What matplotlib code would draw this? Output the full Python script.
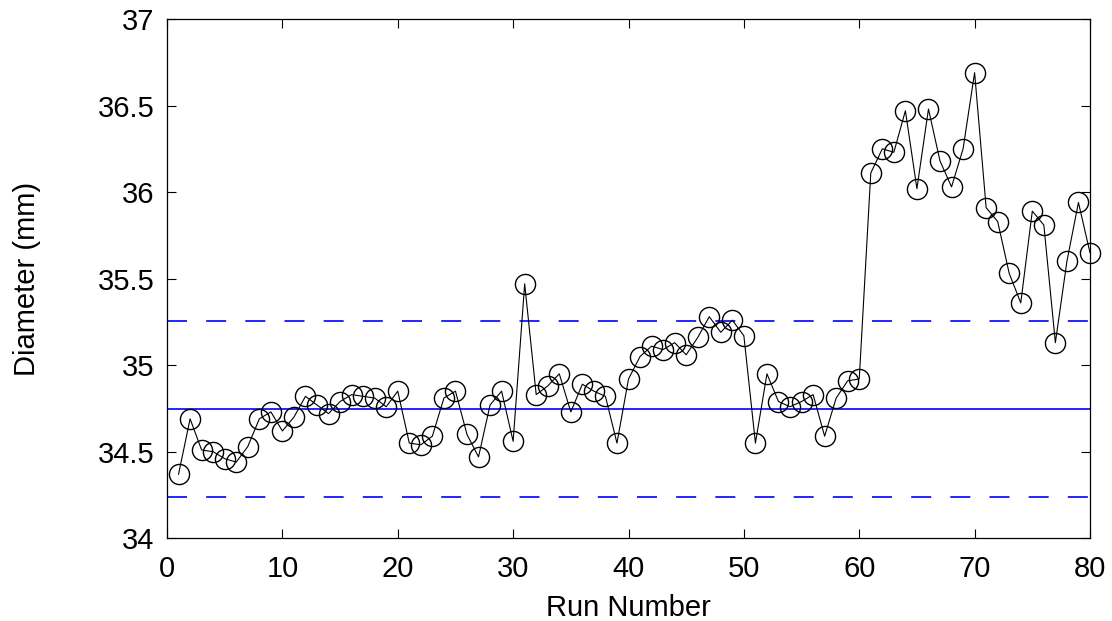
import numpy as np
import matplotlib
matplotlib.use("Agg")
import matplotlib.pyplot as plt

# ── Data ──────────────────────────────────────────────────────────────────────
diameter = [
    34.37, 34.69, 34.51, 34.50, 34.46, 34.44, 34.53, 34.69, 34.73, 34.62,
    34.70, 34.82, 34.77, 34.72, 34.79, 34.83, 34.82, 34.81, 34.76, 34.85,
    34.55, 34.54, 34.59, 34.81, 34.85, 34.60, 34.47, 34.77, 34.85, 34.56,
    35.47, 34.83, 34.88, 34.95, 34.73, 34.89, 34.85, 34.82, 34.55, 34.92,
    35.05, 35.11, 35.09, 35.13, 35.06, 35.16, 35.28, 35.19, 35.26, 35.17,
    34.55, 34.95, 34.79, 34.76, 34.79, 34.83, 34.59, 34.81, 34.91, 34.92,
    36.11, 36.25, 36.23, 36.47, 36.02, 36.48, 36.18, 36.03, 36.25, 36.69,
    35.91, 35.83, 35.53, 35.36, 35.89, 35.81, 35.13, 35.60, 35.94, 35.65,
]
run = np.arange(1, len(diameter) + 1)

center = 34.747
ucl = 35.255
lcl = 34.239

xticks = [0, 10, 20, 30, 40, 50, 60, 70, 80]
yticks = [34, 34.5, 35, 35.5, 36, 36.5, 37]
ytick_labels = ["34", "34.5", "35", "35.5", "36", "36.5", "37"]

# ── Plot ──────────────────────────────────────────────────────────────────────
plt.rcParams["font.family"] = ["Liberation Sans", "DejaVu Sans"]

fig = plt.figure(figsize=(11.12, 6.21), dpi=100)
ax = fig.add_axes([0.1502, 0.1332, 0.8300, 0.8362])

ax.axhline(center, color="#0000ff", lw=1.2, zorder=1)
ax.axhline(ucl, color="#0000ff", lw=1.2, ls=(0, (12, 11.5)), zorder=1)
ax.axhline(lcl, color="#0000ff", lw=1.2, ls=(0, (12, 11.5)), zorder=1)

ax.plot(run, diameter, color="black", lw=0.8, marker="o", ms=14.5,
        mfc="none", mec="black", mew=1.0, zorder=3, clip_on=False)

ax.set_xlim(0, 80)
ax.set_ylim(34, 37)
ax.set_xticks(xticks)
ax.set_yticks(yticks)
ax.set_yticklabels(ytick_labels)

ax.tick_params(direction="in", length=6.5, width=0.8, labelsize=21,
               top=True, right=True, pad=9)
ax.tick_params(axis="x", pad=12)
for s in ax.spines.values():
    s.set_linewidth(0.9)

ax.set_xlabel("Run Number", fontsize=21, labelpad=8)
ax.set_ylabel("Diameter (mm)", fontsize=21, labelpad=41)

fig.savefig("out.png", dpi=100)
